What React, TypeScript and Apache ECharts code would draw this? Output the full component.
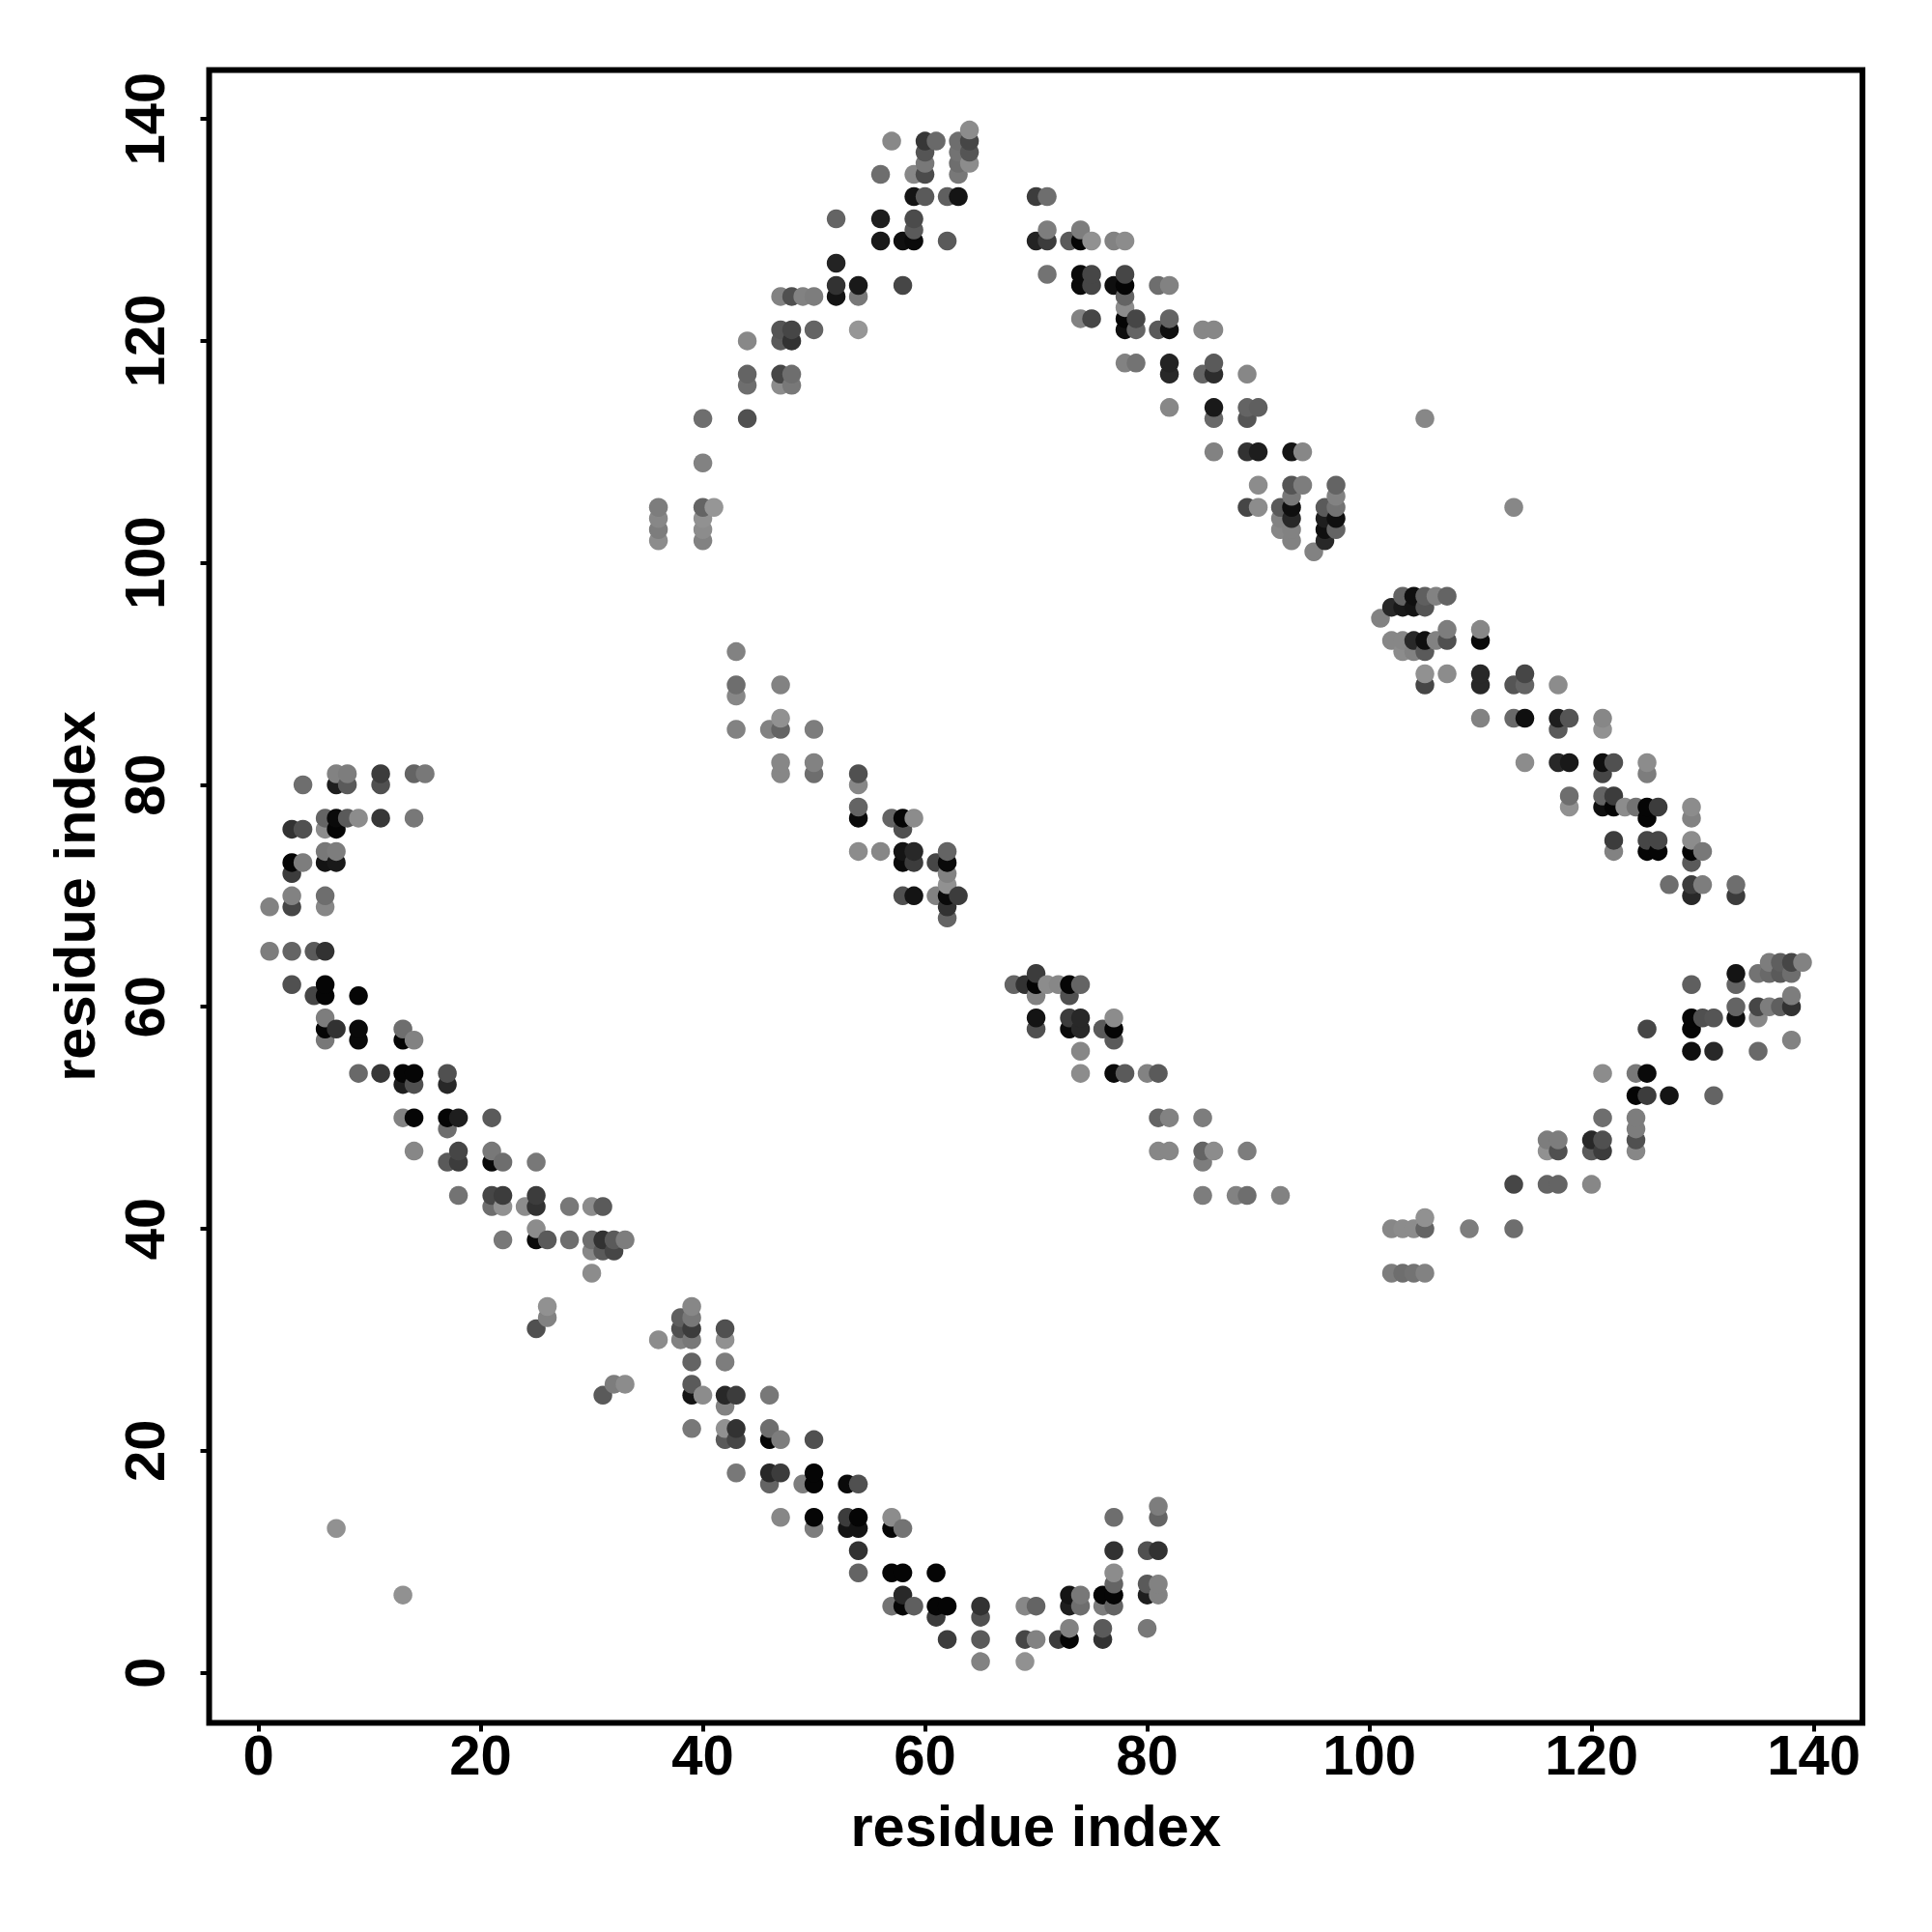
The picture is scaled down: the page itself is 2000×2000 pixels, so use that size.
import React, { useEffect, useRef } from "react";
import * as echarts from "echarts";

type C = [number, number, number];

const tickValues = [0, 20, 40, 60, 80, 100, 120, 140];

// [residue x, residue y, grey level]
const upperArc: C[] = [
  [57,138,136],[60,138,55],[61,138,105],[60,137,85],[60,136,120],[60,135,75],[59,135,135],[56,135,110],
  [63,138,110],[63,137,115],[63,136,110],[63,135,120],[64,139,140],[64,138,70],[64,137,85],[64,136,140],
  [59,133,20],[60,133,90],[62,133,95],[63,133,20],[52,131,100],[56,131,30],[59,131,75],[59,130,90],
  [56,129,25],[58,129,15],[59,129,10],[62,129,90],[52,127,35],[52,125,50],[54,125,25],[58,125,70],
  [52,124,20],[54,124,120],[47,124,130],[48,124,80],[49,124,130],[50,124,125],[47,121,85],[48,121,70],
  [50,121,100],[54,121,150],[44,120,136],[47,120,90],[48,120,50],[44,117,100],[44,116,110],[47,117,70],
  [48,117,110],[47,116,140],[48,116,120],[40,113,110],[44,113,80],[40,109,130],
  [36,105,125],[36,104,135],[36,103,125],[36,102,140],[40,105,100],[40,104,145],[40,103,140],[40,102,130],[41,105,150],
];

const innerUpper: C[] = [
  [43,92,130],[43,89,110],[43,88,135],[43,85,130],[47,89,130],[47,86,145],[47,85,100],[46,85,130],[50,85,125],
  [47,82,135],[47,81,135],[50,82,130],[50,81,110],[54,81,80],[54,80,135],[54,78,100],[54,77,10],
  [57,77,100],[58,77,5],[59,77,140],[58,76,80],[54,74,140],[56,74,135],[58,74,20],[59,74,40],[58,73,10],[59,73,60],
  [61,73,70],[62,74,100],[62,73,10],[62,72,130],[62,71,145],[62,70,10],[62,69,50],[62,68,100],
  [58,70,80],[59,70,20],[61,70,130],[63,70,60],
];

const leftArc: C[] = [
  [4,80,110],[7,81,130],[8,81,125],[7,80,30],[8,80,90],[11,81,60],[11,80,80],[14,81,100],[15,81,120],
  [6,77,100],[7,77,10],[8,77,90],[9,77,140],[11,77,55],[14,77,120],[3,76,50],[4,76,80],[6,76,140],[7,76,5],
  [6,74,120],[7,74,125],[6,73,20],[7,73,25],[3,73,5],[4,73,125],[3,72,60],[3,70,130],[6,70,110],
  [1,69,130],[3,69,70],[6,69,135],[1,65,125],[3,65,100],[5,65,90],[6,65,50],
  [3,62,80],[5,61,70],[6,62,5],[6,61,5],[9,61,5],[6,59,125],[6,58,5],[7,58,50],[6,57,120],
  [9,58,10],[9,57,10],[13,58,110],[13,57,5],[14,57,130],[9,54,105],[11,54,55],[13,54,5],[14,54,5],[13,53,30],[14,53,80],
  [17,54,80],[17,53,40],[13,50,130],[14,50,5],[17,50,5],[18,50,30],[17,49,110],[21,50,90],[14,47,135],
  [18,47,70],[17,46,90],[18,46,60],[21,47,120],[21,46,10],[22,46,110],[25,46,120],[18,43,115],[21,43,70],[22,43,60],
  [21,42,110],[22,42,145],[25,43,60],[25,42,50],[24,42,140],[28,42,120],[30,42,140],[31,42,90],[25,40,140],[25,39,10],[26,39,90],
  [22,39,120],[28,39,110],[30,39,110],[31,39,50],[32,39,90],[33,39,125],[30,38,135],[31,38,90],[32,38,70],[30,36,140],
  [26,33,145],[26,32,130],[25,31,80],[31,25,90],[32,26,125],[33,26,140],[7,13,145],[13,7,145],
];

const lowerArc: C[] = [
  [36,30,140],[38,32,95],[38,31,80],[38,30,130],[39,33,135],[39,32,120],[39,31,60],[39,30,120],
  [39,28,100],[39,26,90],[39,25,20],[40,25,140],[39,22,120],[42,31,80],[42,30,145],[42,28,125],
  [42,25,40],[43,25,60],[42,24,130],[42,22,145],[43,22,50],[42,21,90],[43,21,70],[43,18,120],
  [46,25,120],[46,22,110],[46,21,5],[47,21,125],[46,18,40],[47,18,60],[46,17,100],[49,17,125],[50,18,5],[50,17,5],[50,21,80],
  [50,14,5],[50,13,125],[47,14,135],[53,17,10],[54,17,80],[53,14,60],[54,14,5],[53,13,20],[54,13,20],[54,11,50],[54,9,100],
  [57,14,140],[57,13,5],[58,13,115],[57,9,5],[58,9,5],[61,9,5],[58,7,40],[57,6,115],[58,6,5],[59,6,95],
  [61,6,5],[62,6,5],[61,5,60],[62,3,60],[65,6,50],[65,5,80],[65,3,90],[65,1,130],[69,6,135],[70,6,100],
  [69,3,70],[70,3,130],[69,1,145],[72,3,60],[73,4,130],[73,3,5],[73,7,20],[74,7,120],[73,6,30],[74,6,110],
  [76,6,125],[76,7,5],[77,7,5],[77,8,100],[77,9,140],[77,6,100],[76,4,90],[76,3,50],[77,14,110],[77,11,50],
  [80,11,80],[81,11,50],[80,8,90],[81,8,130],[80,7,30],[81,7,130],[80,4,120],[81,15,125],[81,14,100],
];

const innerLower: C[] = [
  [68,62,100],[69,62,50],[70,63,60],[70,62,5],[71,62,140],[72,62,135],[73,62,5],[74,62,100],[70,61,130],[73,61,80],
  [70,59,20],[70,58,80],[73,59,60],[74,59,40],[73,58,10],[74,58,40],[76,58,90],[77,59,140],[77,58,5],[77,57,90],
  [74,56,135],[74,54,140],[77,54,10],[78,54,90],[80,54,130],[81,54,90],[81,50,100],[82,50,130],[85,50,125],
  [81,47,135],[82,47,135],[85,47,100],[86,47,140],[85,46,125],[89,47,125],[85,43,125],[88,43,130],[89,43,110],[92,43,130],
];

const rightLower: C[] = [
  [102,40,135],[103,40,140],[104,40,140],[105,40,100],[105,41,145],[102,36,125],[103,36,110],[104,36,115],[105,36,130],
  [109,40,125],[113,40,110],[113,44,70],[116,44,100],[117,44,100],[120,44,135],[116,48,125],[117,48,125],[116,47,145],[117,47,80],
  [120,48,40],[121,48,80],[120,47,90],[121,47,60],[121,50,110],[121,54,140],[124,50,125],[124,49,125],[124,48,80],[124,47,135],
  [124,54,120],[125,54,10],[124,52,5],[125,52,60],[127,52,20],[125,58,70],[129,62,95],[129,59,5],[129,58,5],[130,59,80],[131,59,85],
  [129,56,15],[131,56,40],[131,52,100],[133,63,20],[133,62,100],[133,60,100],[133,59,15],
  [135,63,115],[136,64,125],[136,63,105],[137,64,95],[137,63,90],[138,64,70],[138,63,110],[139,64,130],
  [135,60,70],[136,60,125],[137,60,95],[138,61,125],[138,60,50],[135,59,135],[138,57,130],[135,56,105],
];

const rightUpper: C[] = [
  [70,133,60],[71,133,110],[71,130,125],[70,129,35],[71,129,60],[73,129,90],[74,130,125],[74,129,5],[75,129,145],
  [77,129,130],[78,129,140],[71,126,115],[74,126,10],[75,126,70],[74,125,10],[75,125,70],[77,125,15],[78,126,70],[78,125,5],[78,124,100],[78,123,140],
  [81,125,110],[82,125,130],[74,122,130],[75,122,70],[78,122,5],[79,122,70],[78,121,15],[79,121,100],[81,121,90],[82,122,100],[82,121,15],
  [85,121,135],[86,121,135],[78,118,130],[79,118,115],[82,118,35],[82,117,40],[85,117,100],[86,118,90],[86,117,45],[89,117,135],
  [82,114,135],[86,114,25],[86,113,105],[89,114,100],[90,114,95],[89,113,85],[105,113,135],
  [86,110,130],[89,110,50],[90,110,30],[93,110,20],[94,110,135],[90,107,140],[93,107,85],[94,107,125],[93,106,120],
  [89,105,70],[90,105,140],[92,105,90],[93,105,15],[93,104,40],[92,104,130],[92,103,135],[93,103,130],[93,102,130],[95,101,130],
  [96,105,90],[96,104,30],[96,103,15],[96,102,40],[97,107,100],[97,106,130],[97,105,115],[97,104,15],[97,103,100],[113,105,135],
];

const farRight: C[] = [
  [101,95,130],[102,96,40],[103,97,100],[103,96,25],[104,97,15],[104,96,20],[105,97,95],[106,97,130],[107,97,100],[105,96,85],
  [102,93,135],[103,93,135],[104,93,40],[105,93,15],[106,93,130],[107,94,125],[107,93,80],[103,92,140],[104,92,130],[105,92,90],
  [110,94,135],[110,93,10],[105,90,145],[105,89,70],[107,90,140],[110,90,40],[110,89,40],[113,89,85],[114,90,70],[114,89,100],
  [117,89,140],[110,86,130],[113,86,105],[114,86,15],[117,86,30],[118,86,85],[117,85,90],[121,86,135],[121,85,145],
  [114,82,140],[117,82,40],[118,82,25],[122,82,80],[121,82,15],[121,81,70],[125,82,140],[125,81,125],[118,79,110],[118,78,145],
  [121,79,100],[122,79,60],[121,78,15],[122,78,5],[123,78,140],[124,78,115],[125,78,5],[126,78,60],[125,77,5],[129,78,140],[129,77,130],
  [122,75,60],[122,74,130],[125,75,70],[126,75,70],[125,74,5],[126,74,5],[129,75,140],[129,74,5],[130,74,120],[129,73,90],
  [127,71,110],[129,71,60],[130,71,125],[129,70,40],[133,71,110],[133,70,60],
];

const contacts: C[] = [...upperArc, ...innerUpper, ...leftArc, ...lowerArc, ...innerLower, ...rightLower, ...rightUpper, ...farRight]
  .sort((a, b) => a[0] - b[0] || a[1] - b[1]);

const FONT = "Liberation Sans";
const labelBase = { customValues: tickValues, fontFamily: FONT, fontWeight: "bold", fontSize: 58, color: "#000", verticalAlign: "middle", align: "center" };

function makeAxis(extra: object) {
  return {
    type: "value",
    name: "residue index",
    nameLocation: "middle",
    nameMoveOverlap: false,
    nameTextStyle: { fontFamily: FONT, fontWeight: "bold", fontSize: 59.5, color: "#000", verticalAlign: "middle", align: "center" },
    splitLine: { show: false },
    axisLine: { show: false, onZero: false },
    axisTick: { show: true, length: 9, customValues: tickValues, lineStyle: { color: "#000", width: 4 } },
    ...extra,
  };
}

export default function App() {
  const ref = useRef<HTMLDivElement>(null);
  useEffect(() => {
    const chart = echarts.init(ref.current!, undefined, { renderer: "svg" });
    chart.setOption({
      animation: false,
      backgroundColor: "#fff",
      grid: { left: 216.5, top: 72.5, width: 1711.5, height: 1711, show: true, borderColor: "#000", borderWidth: 6, backgroundColor: "transparent" },
      xAxis: makeAxis({ min: -4.444, max: 144.39, nameGap: 107, axisLabel: { ...labelBase, margin: 33 } }),
      yAxis: makeAxis({ min: -4.517, max: 144.404, nameGap: 139, axisLabel: { ...labelBase, rotate: 90, margin: 67 } }),
      series: [
        {
          type: "scatter",
          symbol: "circle",
          symbolSize: 19.5,
          data: contacts,
          clip: false,
          itemStyle: {
            opacity: 1,
            color: (p: any) => {
              const g = p.value[2];
              return `rgb(${g},${g},${g})`;
            },
          },
        },
      ],
    });
    return () => chart.dispose();
  }, []);
  return <div ref={ref} style={{ position: "absolute", left: 0, top: 0, width: 2000, height: 2000 }} />;
}
